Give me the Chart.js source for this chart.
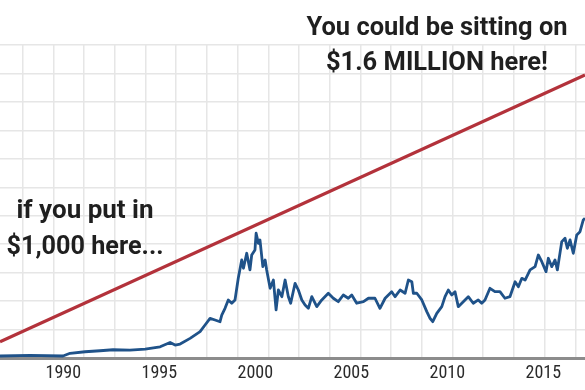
<!DOCTYPE html>
<html>
<head>
<meta charset="utf-8">
<script src="https://cdn.jsdelivr.net/npm/chart.js@4/dist/chart.umd.min.js"></script>
<style>
  html, body { margin: 0; padding: 0; background: #ffffff; }
  #wrap { width: 585px; height: 390px; }
</style>
</head>
<body>
<div id="wrap"><canvas id="c" width="585" height="390"></canvas></div>
<script>
// ---- Data ----
const years = [
  1986.70, 1988.27, 1989.98, 1990.35, 1991.13, 1991.91, 1992.59, 1993.47, 1994.26, 1995.04,
  1995.56, 1995.82, 1996.08, 1996.60, 1997.12, 1997.38, 1997.64, 1997.90, 1998.16, 1998.25,
  1998.42, 1998.59, 1998.77, 1998.94, 1999.11, 1999.29, 1999.38, 1999.55, 1999.72, 1999.81,
  1999.98, 2000.04, 2000.16, 2000.24, 2000.39, 2000.51, 2000.59, 2000.77, 2000.94, 2001.08,
  2001.20, 2001.38, 2001.55, 2001.72, 2001.84, 2002.07, 2002.24, 2002.42, 2002.59, 2002.76,
  2002.94, 2003.20, 2003.46, 2003.80, 2004.06, 2004.32, 2004.58, 2004.84, 2005.02, 2005.28,
  2005.63, 2005.89, 2006.23, 2006.49, 2006.76, 2007.10, 2007.28, 2007.54, 2007.80, 2007.97,
  2008.15, 2008.23, 2008.41, 2008.67, 2008.93, 2009.10, 2009.24, 2009.45, 2009.71, 2009.88,
  2010.05, 2010.23, 2010.40, 2010.57, 2010.83, 2011.09, 2011.35, 2011.61, 2011.79, 2011.96,
  2012.22, 2012.48, 2012.74, 2013.00, 2013.26, 2013.53, 2013.70, 2013.88, 2014.05, 2014.31,
  2014.57, 2014.74, 2014.92, 2015.14, 2015.26, 2015.44, 2015.61, 2015.73, 2015.96, 2016.13,
  2016.25, 2016.39, 2016.56, 2016.74, 2016.91, 2017.08, 2017.17
];
const indexValues = [
  70, 90, 70, 165, 220, 255, 290, 280, 315, 395,
  545, 455, 490, 690, 925, 1160, 1395, 1335, 1275, 1510,
  1745, 2040, 1925, 2040, 2800, 3445, 3155, 3680, 3095, 3620,
  3795, 4385, 4030, 4150, 3210, 3445, 3095, 2450, 2740, 1690,
  2390, 2155, 2740, 2155, 1925, 2625, 2390, 2040, 1860, 1745,
  2155, 1805, 2040, 2275, 2100, 1980, 2215, 2100, 2215, 1925,
  1980, 2100, 2100, 1745, 2100, 2330, 2155, 2390, 2275, 2740,
  2680, 2275, 2275, 2040, 1630, 1395, 1275, 1570, 1805, 2155,
  2390, 2215, 2330, 1805, 1980, 2155, 1925, 2040, 1925, 2040,
  2450, 2330, 2330, 2100, 2155, 2680, 2505, 2800, 2740, 3095,
  3210, 3620, 3385, 3035, 3505, 3210, 3445, 3095, 4090, 4205,
  3855, 4150, 3680, 4325, 4440, 4850, 4910
];
// straight "what you could have" line
const growthYears  = [1986.70, 2017.17];
const growthValues = [570, 9950];

const yearTicks  = [1990, 1995, 2000, 2005, 2010, 2015];
const tickLabels = ['1990', '1995', '2000', '2005', '2010', '2015'];

const topNote  = ['You could be sitting on', '$1.6 MILLION here!'];
const leftNote = ['if you put in', '$1,000 here...'];

// ---- Styles ----
const BLUE = '#1f5289';
const RED = '#b3323b';
const GRID = '#e6e6e6';
const TEXT = '#1f1f1f';
const FONT = "Roboto, 'Noto Sans', sans-serif";

// draw a line of text fitted to a target width (horizontal condensing)
function fitText(ctx, str, cx, baseline, targetW) {
  const w = ctx.measureText(str).width;
  const k = Math.max(0.6, Math.min(1.1, targetW / w));
  ctx.save();
  ctx.translate(cx, baseline);
  ctx.scale(k, 1);
  ctx.fillText(str, 0, 0);
  ctx.restore();
}

const condensePlugin = {
  id: 'condense',
  beforeDraw(chart) {
    try { chart.ctx.fontStretch = 'condensed'; } catch (e) {}
  }
};

const notesPlugin = {
  id: 'notes',
  afterDraw(chart) {
    const ctx = chart.ctx;
    ctx.save();
    ctx.fillStyle = TEXT;
    ctx.textAlign = 'center';
    ctx.textBaseline = 'alphabetic';
    ctx.font = "bold 26px " + FONT;
    fitText(ctx, topNote[0], 437, 35, 261);
    fitText(ctx, topNote[1], 437, 70, 222);
    fitText(ctx, leftNote[0], 85, 218, 137);
    fitText(ctx, leftNote[1], 85, 254, 157);
    ctx.restore();
  }
};

new Chart(document.getElementById('c'), {
  type: 'line',
  data: {
    datasets: [
      {
        label: 'growth',
        data: growthYears.map((x, i) => ({ x, y: growthValues[i] })),
        borderColor: RED,
        borderWidth: 3.2,
        pointRadius: 0,
        tension: 0,
        fill: false
      },
      {
        label: 'index',
        data: years.map((x, i) => ({ x, y: indexValues[i] })),
        borderColor: BLUE,
        borderWidth: 2.8,
        pointRadius: 0,
        tension: 0,
        fill: false,
        borderJoinStyle: 'round'
      }
    ]
  },
  options: {
    responsive: false,
    devicePixelRatio: 1,
    animation: false,
    layout: { padding: { top: 45, left: 0, right: 0, bottom: 0 } },
    plugins: {
      legend: { display: false },
      tooltip: { enabled: false },
      title: { display: false }
    },
    scales: {
      x: {
        type: 'linear',
        position: 'bottom',
        min: 1986.70,
        max: 2017.17,
        afterBuildTicks: (s) => { s.ticks = yearTicks.map(v => ({ value: v })); },
        afterFit: (s) => { s.height = 32; },
        ticks: {
          includeBounds: false,
          autoSkip: false,
          maxRotation: 0,
          padding: 5,
          color: '#2a2a2a',
          font: { family: FONT, size: 18 },
          callback: (v) => tickLabels[yearTicks.indexOf(v)] ?? ''
        },
        grid: { display: false, drawTicks: false },
        border: { display: true, color: '#8c8c8c', width: 3 }
      },
      xg: {
        type: 'linear',
        position: 'top',
        min: -0.7394,
        max: 18.316,
        afterFit: (s) => { s.height = 0; },
        ticks: { display: false, stepSize: 1, includeBounds: false },
        grid: {
          drawTicks: false,
          color: (c) => (c.tick && Number.isInteger(c.tick.value)) ? GRID : 'rgba(0,0,0,0)',
          lineWidth: 1.5
        },
        border: { display: false }
      },
      y: {
        type: 'linear',
        min: 0,
        max: 11000,
        afterFit: (s) => { s.width = 0; },
        ticks: { display: false, stepSize: 1000 },
        grid: { drawTicks: false, color: GRID, lineWidth: 1.5 },
        border: { display: false }
      }
    }
  },
  plugins: [condensePlugin, notesPlugin]
});
</script>
</body>
</html>
